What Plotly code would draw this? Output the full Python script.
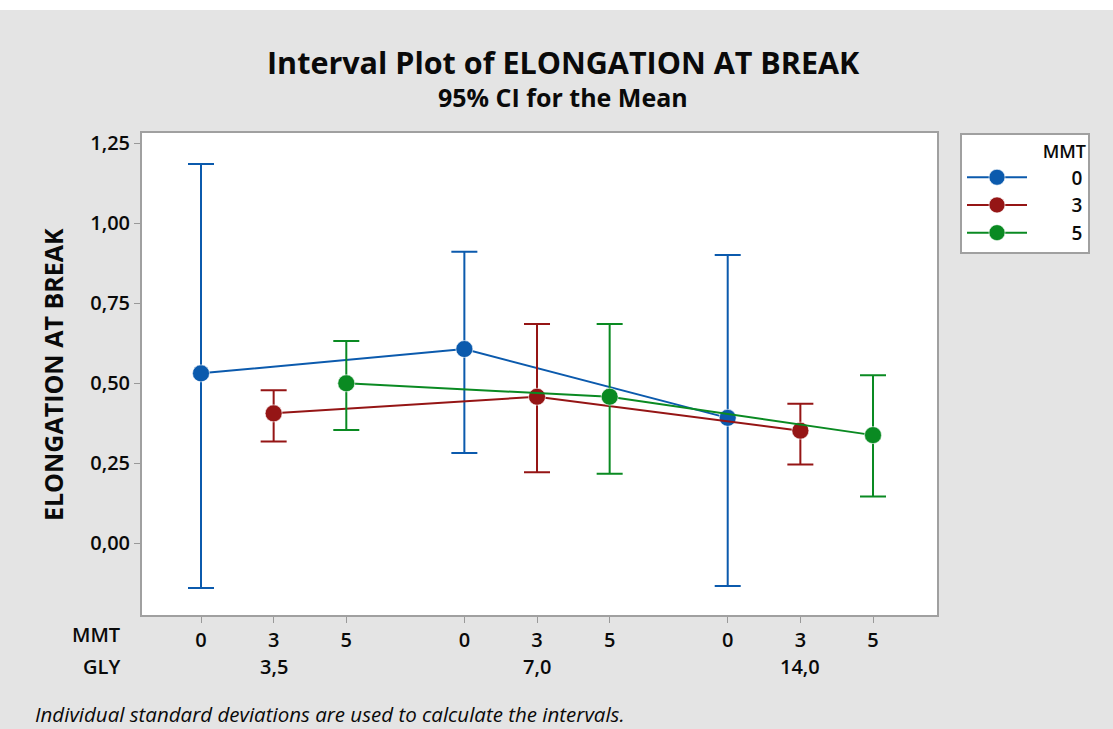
import plotly.graph_objects as go

# ---- data ----
gly_labels = ["3,5", "7,0", "14,0"]
mmt_levels = ["0", "3", "5"]
mean_mmt0 = [0.531, 0.607, 0.392]
mean_mmt3 = [0.406, 0.458, 0.352]
mean_mmt5 = [0.500, 0.458, 0.338]
upper_mmt0 = [1.185, 0.911, 0.901]
upper_mmt3 = [0.478, 0.685, 0.436]
upper_mmt5 = [0.632, 0.685, 0.525]
lower_mmt0 = [-0.140, 0.282, -0.133]
lower_mmt3 = [0.318, 0.222, 0.246]
lower_mmt5 = [0.354, 0.217, 0.146]

means = [mean_mmt0, mean_mmt3, mean_mmt5]
uppers = [upper_mmt0, upper_mmt3, upper_mmt5]
lowers = [lower_mmt0, lower_mmt3, lower_mmt5]
colors = ["#0b5aad", "#951515", "#0a8a22"]

GROUP_STEP = 3.625
FONT = "Open Sans"
TXT = "#0a0a0a"
LEGEND_PAD = "\u00a0" * 8

def xpos(g, j):
    return g * GROUP_STEP + j

fig = go.Figure()
for j, lvl in enumerate(mmt_levels):
    xs = [xpos(g, j) for g in range(len(gly_labels))]
    m = means[j]
    up = [u - v for u, v in zip(uppers[j], m)]
    dn = [v - l for v, l in zip(m, lowers[j])]
    fig.add_trace(go.Scatter(
        x=xs, y=m, mode="lines+markers", name=LEGEND_PAD + lvl,
        line=dict(color=colors[j], width=2),
        marker=dict(size=17, color=colors[j], line=dict(color="rgba(255,255,255,0.6)", width=1)),
        error_y=dict(type="data", symmetric=False, array=up, arrayminus=dn,
                     color=colors[j], thickness=2, width=13),
    ))

tickvals = [xpos(g, j) for g in range(len(gly_labels)) for j in range(len(mmt_levels))]
ticktext = [lvl for g in range(len(gly_labels)) for lvl in mmt_levels]

L, R, T, B = 142, 176, 133, 114
W, H = 1113, 729
pw, ph = W - L - R, H - T - B
def px2x(px):
    return (px - L) / pw
def py2y(py):
    return (H - B - py) / ph

semi = dict(color=TXT, family=FONT, weight=600)
annotations = []
for g, lab in enumerate(gly_labels):
    annotations.append(dict(x=xpos(g, 1), xref="x", y=py2y(666), yref="paper",
                            text=lab, showarrow=False, yanchor="middle",
                            font=dict(size=20, **semi)))
annotations += [
    dict(x=px2x(122), y=py2y(634), xref="paper", yref="paper", text="MMT",
         showarrow=False, xanchor="right", yanchor="middle",
         font=dict(size=20, **semi)),
    dict(x=px2x(122), y=py2y(666), xref="paper", yref="paper", text="GLY",
         showarrow=False, xanchor="right", yanchor="middle",
         font=dict(size=20, **semi)),
    dict(x=px2x(33), y=py2y(714), xref="paper", yref="paper",
         text="<i>Individual standard deviations are used to calculate the intervals.</i>",
         showarrow=False, xanchor="left", yanchor="middle",
         font=dict(size=20.5, color=TXT, family=FONT)),
    dict(x=px2x(563), y=py2y(62), xref="paper", yref="paper",
         text="<b>Interval Plot of ELONGATION AT BREAK</b>",
         showarrow=False, xanchor="center", yanchor="middle",
         font=dict(size=30.5, color=TXT, family=FONT)),
    dict(x=px2x(563), y=py2y(97), xref="paper", yref="paper",
         text="<b>95% CI for the Mean</b>",
         showarrow=False, xanchor="center", yanchor="middle",
         font=dict(size=25, color=TXT, family=FONT)),
    dict(x=px2x(53), y=py2y(375), xref="paper", yref="paper",
         text="<b>ELONGATION AT BREAK</b>", textangle=-90,
         showarrow=False, xanchor="center", yanchor="middle",
         font=dict(size=25, color=TXT, family=FONT)),
]

fig.update_layout(
    width=W, height=H,
    margin=dict(l=L, r=R, t=T, b=B),
    paper_bgcolor="#e4e4e4", plot_bgcolor="white",
    separators=",.",
    font=dict(family=FONT, color=TXT),
    showlegend=True,
    legend=dict(
        x=px2x(960), y=1, xanchor="left", yanchor="top",
        bgcolor="white", bordercolor="#a0a0a0", borderwidth=2,
        title=dict(text="MMT", side="top right", font=dict(size=18, **semi)),
        font=dict(size=19, **semi),
        itemwidth=60, tracegroupgap=0,
    ),
    annotations=annotations,
    shapes=[
        dict(type="rect", xref="paper", yref="paper",
             x0=px2x(0), x1=px2x(W), y0=py2y(10), y1=py2y(-5),
             fillcolor="white", line=dict(width=0), layer="below"),
    ],
)
fig.update_xaxes(
    range=[(142 - 201) / 72.65, (937 - 201) / 72.65],
    tickvals=tickvals, ticktext=ticktext,
    ticks="outside", ticklen=6, tickcolor="#999999", tickwidth=1,
    tickfont=dict(size=20, **semi),
    showgrid=False, zeroline=False,
    showline=True, mirror=True, linecolor="#a0a0a0", linewidth=2,
)
fig.update_yaxes(
    range=[-0.224, 1.282],
    tickvals=[0, 0.25, 0.5, 0.75, 1.0, 1.25], tickformat=".2f",
    ticks="outside", ticklen=6, tickcolor="#999999", tickwidth=1,
    tickfont=dict(size=20, **semi),
    showgrid=False, zeroline=False,
    showline=True, mirror=True, linecolor="#a0a0a0", linewidth=2,
)

fig.write_html("out.html")
